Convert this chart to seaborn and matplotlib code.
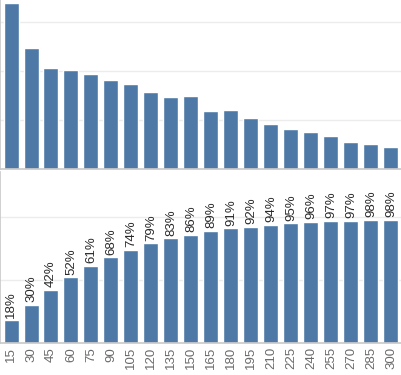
import numpy as np
import pandas as pd
import matplotlib
matplotlib.use("Agg")
import matplotlib.pyplot as plt
import seaborn as sns

# --- data ---
minutos = [15, 30, 45, 60, 75, 90, 105, 120, 135, 150,
           165, 180, 195, 210, 225, 240, 255, 270, 285, 300]
contagem = [339, 247, 206, 202, 194, 182, 173, 157, 147, 149,
            118, 120, 104, 92, 82, 76, 67, 55, 51, 45]
acumulado = [0.18, 0.30, 0.42, 0.52, 0.61, 0.68, 0.74, 0.79, 0.83, 0.86,
             0.89, 0.91, 0.92, 0.94, 0.95, 0.96, 0.97, 0.97, 0.98, 0.98]

df = pd.DataFrame({"Minutos": [str(m) for m in minutos],
                   "Contagem": contagem,
                   "Acumulado": acumulado})

sns.set_style("white")
plt.rcParams["font.family"] = ["Liberation Sans", "DejaVu Sans"]
azul = "#4e79a7"
grade = "#ececec"
eixo = "#c8c8c8"

fig = plt.figure(figsize=(4.01, 3.75), dpi=100)
ax1 = fig.add_axes([0.0, 1 - 169 / 375, 1.0, 169 / 375])
ax2 = fig.add_axes([0.0, 1 - 343 / 375, 1.0, 171 / 375])

# --- top: distribution ---
sns.barplot(data=df, x="Minutos", y="Contagem", color=azul, width=0.75,
            saturation=1, ax=ax1)
ax1.set_ylim(0, 345)
ax1.set_yticks([100, 200, 300])
ax1.set_xlim(-0.55, 19.5)

# --- bottom: cumulative % ---
sns.barplot(data=df, x="Minutos", y="Acumulado", color=azul, width=0.75,
            saturation=1, ax=ax2)
ax2.set_ylim(0, 1.357)
ax2.set_yticks([0.5, 1.0])
ax2.set_xlim(-0.55, 19.5)
ax2.bar_label(ax2.containers[0], labels=[f"{v:.0%}" for v in acumulado],
              rotation=90, padding=2, fontsize=9.5, color="#2a2a2a")

for ax in (ax1, ax2):
    ax.set_xlabel("")
    ax.set_ylabel("")
    ax.yaxis.grid(True, color=grade, linewidth=1)
    ax.set_axisbelow(True)
    ax.tick_params(axis="y", left=False, labelleft=False)
    for s in ("top", "right"):
        ax.spines[s].set_visible(False)
    ax.spines["left"].set_color(eixo)
    ax.spines["bottom"].set_color(eixo)
    ax.spines["left"].set_linewidth(1.2)
    ax.spines["bottom"].set_linewidth(1.2)

ax1.tick_params(axis="x", bottom=False, labelbottom=False)
ax2.set_xticks(np.arange(len(minutos)))
ax2.set_xticklabels(df["Minutos"], rotation=90, fontsize=9.5, color="#6a6a6a")
ax2.tick_params(axis="x", length=0, pad=3)
ax2.set_xticks(np.arange(len(minutos)) + 0.5, minor=True)
ax2.tick_params(axis="x", which="minor", length=4, color=eixo)

fig.savefig("out.png", dpi=100)
